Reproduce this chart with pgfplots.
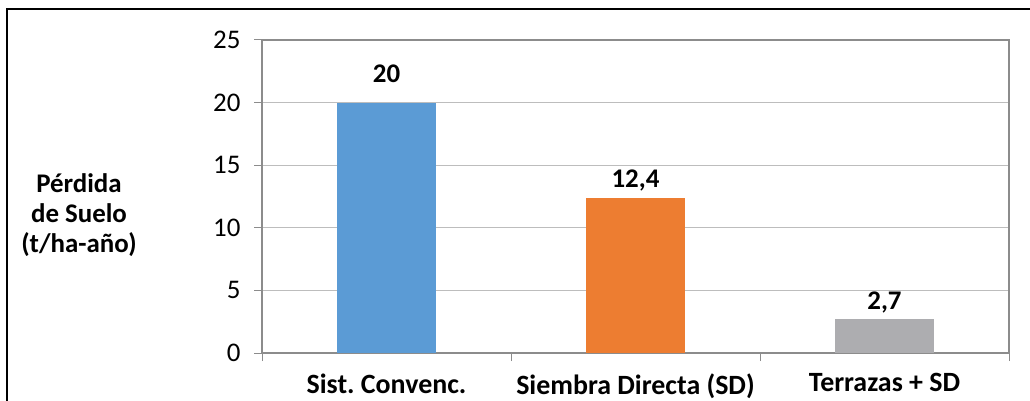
\documentclass[border=0pt]{standalone}
\usepackage{pgfplots}
\pgfplotsset{compat=1.18}
\usepackage{fontspec}
\setmainfont{Carlito}
\frenchspacing
\definecolor{cblue}{HTML}{5B9BD5}
\definecolor{corange}{HTML}{ED7D31}
\definecolor{cgray}{HTML}{ADADB0}
\definecolor{axgray}{HTML}{8C8C8C}
\definecolor{gridgray}{HTML}{BDBDBD}
\begin{document}
\begin{tikzpicture}[x=1bp,y=1bp]
\useasboundingbox (0,0) rectangle (1030,400);
\draw[line width=1.5bp] (7,-5) -- (7,391) -- (1035,391);
\node[align=center, font=\bfseries\fontsize{27}{30}\selectfont] at (79,185)
  {Pérdida\\de Suelo\\(t/ha-año)};
\begin{axis}[
    at={(262bp,47bp)}, anchor=south west,
    scale only axis, width=747bp, height=313bp,
    xmin=-0.5, xmax=2.5, ymin=0, ymax=25,
    ytick={0,5,10,15,20,25},
    xtick={-0.5,0.5,1.5,2.5}, xticklabels={},
    xtick pos=bottom, ytick pos=left,
    extra x ticks={0,1,2},
    extra x tick labels={Sist. Convenc., Siembra Directa (SD), Terrazas + SD},
    extra x tick style={major tick length=0pt,
        tick label style={font=\bfseries\fontsize{28}{28}\selectfont, yshift=-17bp}},
    tick align=outside, major tick length=8bp,
    tick style={draw=axgray, line width=1bp},
    axis line style={draw=axgray, line width=1.2bp},
    ymajorgrids, grid style={draw=gridgray, line width=1bp},
    /pgf/number format/assume math mode=true,
    yticklabel style={font=\fontsize{27}{27}\selectfont, xshift=-10bp},
    ybar, bar width=99bp,
    point meta=explicit symbolic,
    nodes near coords,
    every node near coord/.append style={font=\bfseries\fontsize{27}{27}\selectfont,
        text=black, anchor=base, inner sep=0pt, yshift=10bp},
]
\addplot[fill=cblue, draw=none, bar shift=0pt,
    every node near coord/.append style={yshift=10bp}] coordinates {(0,20) [20]};
\addplot[fill=corange, draw=none, bar shift=0pt] coordinates {(1,12.4) [12,4]};
\addplot[fill=cgray, draw=none, bar shift=0pt] coordinates {(2,2.7) [2,7]};
\end{axis}
\end{tikzpicture}
\end{document}
